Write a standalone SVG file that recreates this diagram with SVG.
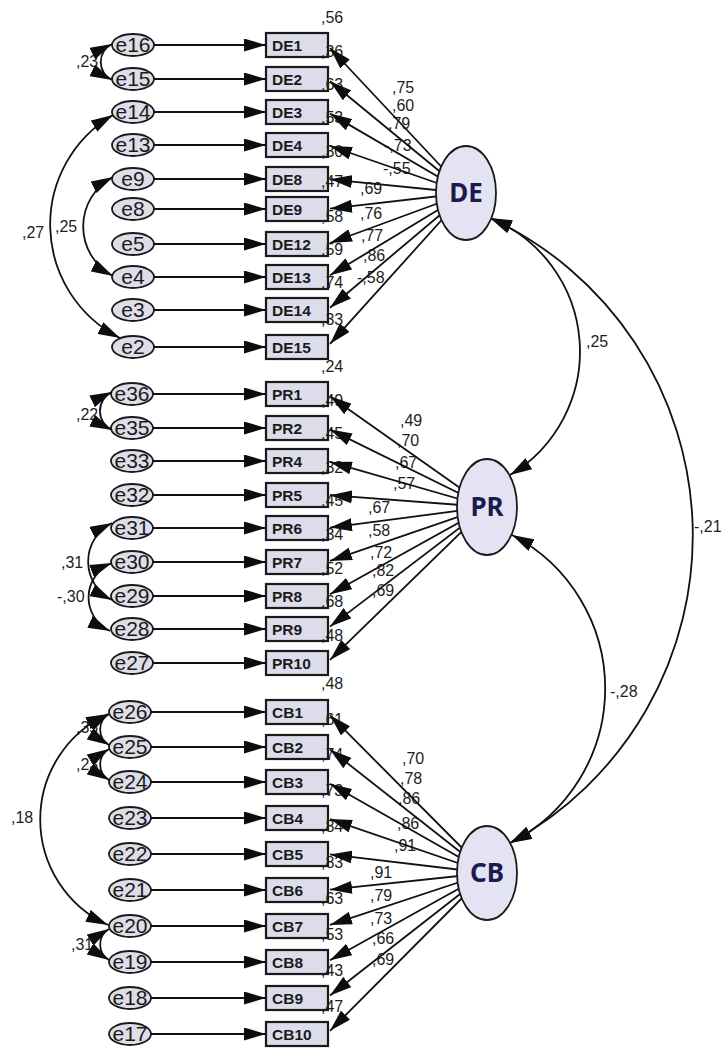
<svg xmlns="http://www.w3.org/2000/svg" width="722" height="1048" viewBox="0 0 722 1048">
  <defs>
    <marker id="ah" viewBox="0 0 22 13" refX="22" refY="6.5" markerWidth="22" markerHeight="13" markerUnits="userSpaceOnUse" orient="auto-start-reverse">
      <path d="M0,0 L22,6.5 L0,13 z" fill="#0d0d0d"/>
    </marker>
    <style>
      .err ellipse { fill: #dedee9; stroke: #1a1a1a; stroke-width: 1.8; }
      .err text { font-family: "Liberation Sans", Arial, sans-serif; font-size: 21px; fill: #1a1a1a; text-anchor: middle; }
      .box rect { fill: #dcdcea; stroke: #1a1a1a; stroke-width: 2.2; }
      .box text { font-family: "Liberation Sans", Arial, sans-serif; font-size: 15.5px; font-weight: bold; fill: #1a1a1a; }
      .lat ellipse { fill: #e4e3f3; stroke: #1a1a1a; stroke-width: 1.8; }
      .lat text { font-family: "Noto Sans", "Open Sans", sans-serif; font-size: 26px; font-weight: bold; fill: #1b1b4d; text-anchor: middle; }
      .lbl text { font-family: "Liberation Sans", Arial, sans-serif; font-size: 16px; fill: #1e1e1e; }
      .cn line, .cn path { stroke: #111; stroke-width: 1.8; fill: none; }
      .one { marker-end: url(#ah); }
      .two { marker-start: url(#ah); marker-end: url(#ah); }
    </style>
  </defs>
  <rect width="722" height="1048" fill="#ffffff"/>

  <!-- error terms -->
  <g id="e16" class="err"><ellipse cx="133" cy="45" rx="21" ry="11"/><text x="133" y="52">e16</text></g>
  <g id="e15" class="err"><ellipse cx="133" cy="79" rx="21" ry="11"/><text x="133" y="86">e15</text></g>
  <g id="e14" class="err"><ellipse cx="133" cy="112" rx="21" ry="11"/><text x="133" y="119">e14</text></g>
  <g id="e13" class="err"><ellipse cx="133" cy="145" rx="21" ry="11"/><text x="133" y="152">e13</text></g>
  <g id="e9" class="err"><ellipse cx="133" cy="179" rx="21" ry="11"/><text x="133" y="186">e9</text></g>
  <g id="e8" class="err"><ellipse cx="133" cy="209" rx="21" ry="11"/><text x="133" y="216">e8</text></g>
  <g id="e5" class="err"><ellipse cx="133" cy="244" rx="21" ry="11"/><text x="133" y="251">e5</text></g>
  <g id="e4" class="err"><ellipse cx="133" cy="277" rx="21" ry="11"/><text x="133" y="284">e4</text></g>
  <g id="e3" class="err"><ellipse cx="133" cy="310" rx="21" ry="11"/><text x="133" y="317">e3</text></g>
  <g id="e2" class="err"><ellipse cx="133" cy="347" rx="21" ry="11"/><text x="133" y="354">e2</text></g>

  <g id="e36" class="err"><ellipse cx="132" cy="394" rx="21" ry="11"/><text x="132" y="401">e36</text></g>
  <g id="e35" class="err"><ellipse cx="132" cy="428" rx="21" ry="11"/><text x="132" y="435">e35</text></g>
  <g id="e33" class="err"><ellipse cx="132" cy="461" rx="21" ry="11"/><text x="132" y="468">e33</text></g>
  <g id="e32" class="err"><ellipse cx="132" cy="495" rx="21" ry="11"/><text x="132" y="502">e32</text></g>
  <g id="e31" class="err"><ellipse cx="132" cy="528" rx="21" ry="11"/><text x="132" y="535">e31</text></g>
  <g id="e30" class="err"><ellipse cx="132" cy="562" rx="21" ry="11"/><text x="132" y="569">e30</text></g>
  <g id="e29" class="err"><ellipse cx="132" cy="596" rx="21" ry="11"/><text x="132" y="603">e29</text></g>
  <g id="e28" class="err"><ellipse cx="132" cy="629" rx="21" ry="11"/><text x="132" y="636">e28</text></g>
  <g id="e27" class="err"><ellipse cx="132" cy="663" rx="21" ry="11"/><text x="132" y="670">e27</text></g>

  <g id="e26" class="err"><ellipse cx="130" cy="712" rx="21" ry="11"/><text x="130" y="719">e26</text></g>
  <g id="e25" class="err"><ellipse cx="130" cy="747" rx="21" ry="11"/><text x="130" y="754">e25</text></g>
  <g id="e24" class="err"><ellipse cx="130" cy="782" rx="21" ry="11"/><text x="130" y="789">e24</text></g>
  <g id="e23" class="err"><ellipse cx="130" cy="818" rx="21" ry="11"/><text x="130" y="825">e23</text></g>
  <g id="e22" class="err"><ellipse cx="130" cy="854" rx="21" ry="11"/><text x="130" y="861">e22</text></g>
  <g id="e21" class="err"><ellipse cx="130" cy="890" rx="21" ry="11"/><text x="130" y="897">e21</text></g>
  <g id="e20" class="err"><ellipse cx="130" cy="926" rx="21" ry="11"/><text x="130" y="933">e20</text></g>
  <g id="e19" class="err"><ellipse cx="130" cy="962" rx="21" ry="11"/><text x="130" y="969">e19</text></g>
  <g id="e18" class="err"><ellipse cx="130" cy="998" rx="21" ry="11"/><text x="130" y="1005">e18</text></g>
  <g id="e17" class="err"><ellipse cx="130" cy="1034" rx="21" ry="11"/><text x="130" y="1041">e17</text></g>

  <!-- observed indicators -->
  <g id="DE1" class="box"><rect x="266" y="33" width="62" height="24"/><text x="272" y="50.5">DE1</text></g>
  <g id="DE2" class="box"><rect x="266" y="67" width="62" height="24"/><text x="272" y="84.5">DE2</text></g>
  <g id="DE3" class="box"><rect x="266" y="100" width="62" height="24"/><text x="272" y="117.5">DE3</text></g>
  <g id="DE4" class="box"><rect x="266" y="133" width="62" height="24"/><text x="272" y="150.5">DE4</text></g>
  <g id="DE8" class="box"><rect x="266" y="167" width="62" height="24"/><text x="272" y="184.5">DE8</text></g>
  <g id="DE9" class="box"><rect x="266" y="197" width="62" height="24"/><text x="272" y="214.5">DE9</text></g>
  <g id="DE12" class="box"><rect x="266" y="232" width="62" height="24"/><text x="272" y="249.5">DE12</text></g>
  <g id="DE13" class="box"><rect x="266" y="265" width="62" height="24"/><text x="272" y="282.5">DE13</text></g>
  <g id="DE14" class="box"><rect x="266" y="298" width="62" height="24"/><text x="272" y="315.5">DE14</text></g>
  <g id="DE15" class="box"><rect x="266" y="335" width="62" height="24"/><text x="272" y="352.5">DE15</text></g>

  <g id="PR1" class="box"><rect x="266" y="382" width="62" height="24"/><text x="272" y="399.5">PR1</text></g>
  <g id="PR2" class="box"><rect x="266" y="416" width="62" height="24"/><text x="272" y="433.5">PR2</text></g>
  <g id="PR4" class="box"><rect x="266" y="449" width="62" height="24"/><text x="272" y="466.5">PR4</text></g>
  <g id="PR5" class="box"><rect x="266" y="483" width="62" height="24"/><text x="272" y="500.5">PR5</text></g>
  <g id="PR6" class="box"><rect x="266" y="516" width="62" height="24"/><text x="272" y="533.5">PR6</text></g>
  <g id="PR7" class="box"><rect x="266" y="550" width="62" height="24"/><text x="272" y="567.5">PR7</text></g>
  <g id="PR8" class="box"><rect x="266" y="584" width="62" height="24"/><text x="272" y="601.5">PR8</text></g>
  <g id="PR9" class="box"><rect x="266" y="617" width="62" height="24"/><text x="272" y="634.5">PR9</text></g>
  <g id="PR10" class="box"><rect x="266" y="651" width="62" height="24"/><text x="272" y="668.5">PR10</text></g>

  <g id="CB1" class="box"><rect x="266" y="700" width="62" height="24"/><text x="272" y="717.5">CB1</text></g>
  <g id="CB2" class="box"><rect x="266" y="735" width="62" height="24"/><text x="272" y="752.5">CB2</text></g>
  <g id="CB3" class="box"><rect x="266" y="770" width="62" height="24"/><text x="272" y="787.5">CB3</text></g>
  <g id="CB4" class="box"><rect x="266" y="806" width="62" height="24"/><text x="272" y="823.5">CB4</text></g>
  <g id="CB5" class="box"><rect x="266" y="842" width="62" height="24"/><text x="272" y="859.5">CB5</text></g>
  <g id="CB6" class="box"><rect x="266" y="878" width="62" height="24"/><text x="272" y="895.5">CB6</text></g>
  <g id="CB7" class="box"><rect x="266" y="914" width="62" height="24"/><text x="272" y="931.5">CB7</text></g>
  <g id="CB8" class="box"><rect x="266" y="950" width="62" height="24"/><text x="272" y="967.5">CB8</text></g>
  <g id="CB9" class="box"><rect x="266" y="986" width="62" height="24"/><text x="272" y="1003.5">CB9</text></g>
  <g id="CB10" class="box"><rect x="266" y="1022" width="62" height="24"/><text x="272" y="1039.5">CB10</text></g>

  <!-- estimates: squared multiple correlations, loadings, covariances -->
  <g id="labels" class="lbl">
    <text x="321" y="23">,56</text>
    <text x="321" y="57">,36</text>
    <text x="321" y="90">,63</text>
    <text x="321" y="123">,53</text>
    <text x="321" y="157">,30</text>
    <text x="321" y="187">,47</text>
    <text x="321" y="222">,58</text>
    <text x="321" y="255">,59</text>
    <text x="321" y="288">,74</text>
    <text x="321" y="325">,33</text>

    <text x="321" y="372">,24</text>
    <text x="321" y="406">,49</text>
    <text x="321" y="439">,45</text>
    <text x="321" y="473">,32</text>
    <text x="321" y="506">,45</text>
    <text x="321" y="540">,34</text>
    <text x="321" y="574">,52</text>
    <text x="321" y="607">,68</text>
    <text x="321" y="641">,48</text>

    <text x="321" y="689">,48</text>
    <text x="321" y="725">,61</text>
    <text x="321" y="760">,74</text>
    <text x="321" y="796">,73</text>
    <text x="321" y="832">,84</text>
    <text x="321" y="868">,83</text>
    <text x="321" y="904">,63</text>
    <text x="321" y="940">,53</text>
    <text x="321" y="976">,43</text>
    <text x="321" y="1012">,47</text>

    <text x="392" y="93">,75</text>
    <text x="392" y="111">,60</text>
    <text x="388" y="129">,79</text>
    <text x="384" y="151">-,73</text>
    <text x="383" y="174">-,55</text>
    <text x="360" y="194">,69</text>
    <text x="360" y="219">,76</text>
    <text x="361" y="241">,77</text>
    <text x="363" y="261">,86</text>
    <text x="357" y="283">-,58</text>

    <text x="400" y="426">,49</text>
    <text x="397" y="446">,70</text>
    <text x="395" y="468">,67</text>
    <text x="393" y="489">,57</text>
    <text x="368" y="513">,67</text>
    <text x="368" y="536">,58</text>
    <text x="370" y="558">,72</text>
    <text x="372" y="576">,82</text>
    <text x="372" y="596">,69</text>

    <text x="402" y="764">,70</text>
    <text x="400" y="784">,78</text>
    <text x="398" y="804">,86</text>
    <text x="397" y="829">,86</text>
    <text x="394" y="851">,91</text>
    <text x="370" y="878">,91</text>
    <text x="370" y="901">,79</text>
    <text x="370" y="924">,73</text>
    <text x="372" y="944">,66</text>
    <text x="372" y="965">,69</text>

    <text x="76" y="67">,23</text>
    <text x="22" y="238">,27</text>
    <text x="55" y="232">,25</text>
    <text x="76" y="420">,22</text>
    <text x="61" y="568">,31</text>
    <text x="57" y="602">-,30</text>
    <text x="76" y="733">,35</text>
    <text x="76" y="770">,23</text>
    <text x="11" y="823">,18</text>
    <text x="71" y="950">,31</text>

    <text x="586" y="347">,25</text>
    <text x="694" y="532" font-size="15">-,21</text>
    <text x="610" y="697">-,28</text>
  </g>

  <g id="connectors" class="cn">
    <!-- error to indicator -->
    <line class="one" x1="154" y1="45" x2="266" y2="45"/>
    <line class="one" x1="154" y1="79" x2="266" y2="79"/>
    <line class="one" x1="154" y1="112" x2="266" y2="112"/>
    <line class="one" x1="154" y1="145" x2="266" y2="145"/>
    <line class="one" x1="154" y1="179" x2="266" y2="179"/>
    <line class="one" x1="154" y1="209" x2="266" y2="209"/>
    <line class="one" x1="154" y1="244" x2="266" y2="244"/>
    <line class="one" x1="154" y1="277" x2="266" y2="277"/>
    <line class="one" x1="154" y1="310" x2="266" y2="310"/>
    <line class="one" x1="154" y1="347" x2="266" y2="347"/>
    <line class="one" x1="153" y1="394" x2="266" y2="394"/>
    <line class="one" x1="153" y1="428" x2="266" y2="428"/>
    <line class="one" x1="153" y1="461" x2="266" y2="461"/>
    <line class="one" x1="153" y1="495" x2="266" y2="495"/>
    <line class="one" x1="153" y1="528" x2="266" y2="528"/>
    <line class="one" x1="153" y1="562" x2="266" y2="562"/>
    <line class="one" x1="153" y1="596" x2="266" y2="596"/>
    <line class="one" x1="153" y1="629" x2="266" y2="629"/>
    <line class="one" x1="153" y1="663" x2="266" y2="663"/>
    <line class="one" x1="151" y1="712" x2="266" y2="712"/>
    <line class="one" x1="151" y1="747" x2="266" y2="747"/>
    <line class="one" x1="151" y1="782" x2="266" y2="782"/>
    <line class="one" x1="151" y1="818" x2="266" y2="818"/>
    <line class="one" x1="151" y1="854" x2="266" y2="854"/>
    <line class="one" x1="151" y1="890" x2="266" y2="890"/>
    <line class="one" x1="151" y1="926" x2="266" y2="926"/>
    <line class="one" x1="151" y1="962" x2="266" y2="962"/>
    <line class="one" x1="151" y1="998" x2="266" y2="998"/>
    <line class="one" x1="151" y1="1034" x2="266" y2="1034"/>

    <!-- loadings DE -->
    <line class="one" x1="466" y1="193" x2="330" y2="48"/>
    <line class="one" x1="466" y1="193" x2="330" y2="81.3"/>
    <line class="one" x1="466" y1="193" x2="330" y2="113.6"/>
    <line class="one" x1="466" y1="193" x2="330" y2="146"/>
    <line class="one" x1="466" y1="193" x2="330" y2="179.3"/>
    <line class="one" x1="466" y1="193" x2="330" y2="208.7"/>
    <line class="one" x1="466" y1="193" x2="330" y2="243"/>
    <line class="one" x1="466" y1="193" x2="330" y2="275.3"/>
    <line class="one" x1="466" y1="193" x2="330" y2="307.7"/>
    <line class="one" x1="466" y1="193" x2="330" y2="343.9"/>
    <!-- loadings PR -->
    <line class="one" x1="487" y1="507" x2="330" y2="396.3"/>
    <line class="one" x1="487" y1="507" x2="330" y2="429.6"/>
    <line class="one" x1="487" y1="507" x2="330" y2="461.9"/>
    <line class="one" x1="487" y1="507" x2="330" y2="495.2"/>
    <line class="one" x1="487" y1="507" x2="330" y2="527.6"/>
    <line class="one" x1="487" y1="507" x2="330" y2="560.9"/>
    <line class="one" x1="487" y1="507" x2="330" y2="594.2"/>
    <line class="one" x1="487" y1="507" x2="330" y2="626.6"/>
    <line class="one" x1="487" y1="507" x2="330" y2="659.9"/>
    <!-- loadings CB -->
    <line class="one" x1="487" y1="873" x2="330" y2="715.2"/>
    <line class="one" x1="487" y1="873" x2="330" y2="749.5"/>
    <line class="one" x1="487" y1="873" x2="330" y2="783.8"/>
    <line class="one" x1="487" y1="873" x2="330" y2="819.1"/>
    <line class="one" x1="487" y1="873" x2="330" y2="854.4"/>
    <line class="one" x1="487" y1="873" x2="330" y2="889.7"/>
    <line class="one" x1="487" y1="873" x2="330" y2="924.9"/>
    <line class="one" x1="487" y1="873" x2="330" y2="960.2"/>
    <line class="one" x1="487" y1="873" x2="330" y2="995.5"/>
    <line class="one" x1="487" y1="873" x2="330" y2="1030.8"/>

    <!-- error covariances -->
    <path class="two" d="M112,44 A20,20 0 0 0 112,80"/>
    <path class="two" d="M113,115 A127,127 0 0 0 120,338"/>
    <path class="two" d="M113,177 A56,56 0 0 0 113,276"/>
    <path class="two" d="M112,392 A21,21 0 0 0 112,430"/>
    <path class="two" d="M112,523 A43,43 0 0 0 112,600"/>
    <path class="two" d="M112,563 A37,37 0 0 0 110,631"/>
    <path class="two" d="M109,714 A18,18 0 0 0 109,745"/>
    <path class="two" d="M109,749 A18,18 0 0 0 109,780"/>
    <path class="two" d="M108,714 A116,116 0 0 0 108,925"/>
    <path class="two" d="M109,929 A18,18 0 0 0 109,960"/>

    <!-- factor covariances -->
    <path class="two" d="M490,218 A144,144 0 0 1 510,475"/>
    <path class="two" d="M490,218 A350,350 0 0 1 510,843"/>
    <path class="two" d="M512,535 A173,173 0 0 1 510,843"/>
  </g>

  <!-- latent factors -->
  <g id="DE" class="lat"><ellipse cx="466" cy="193" rx="30" ry="47"/><text x="466" y="202">DE</text></g>
  <g id="PR" class="lat"><ellipse cx="487" cy="507" rx="30" ry="48"/><text x="487" y="516">PR</text></g>
  <g id="CB" class="lat"><ellipse cx="487" cy="873" rx="30" ry="47"/><text x="487" y="882">CB</text></g>
</svg>
